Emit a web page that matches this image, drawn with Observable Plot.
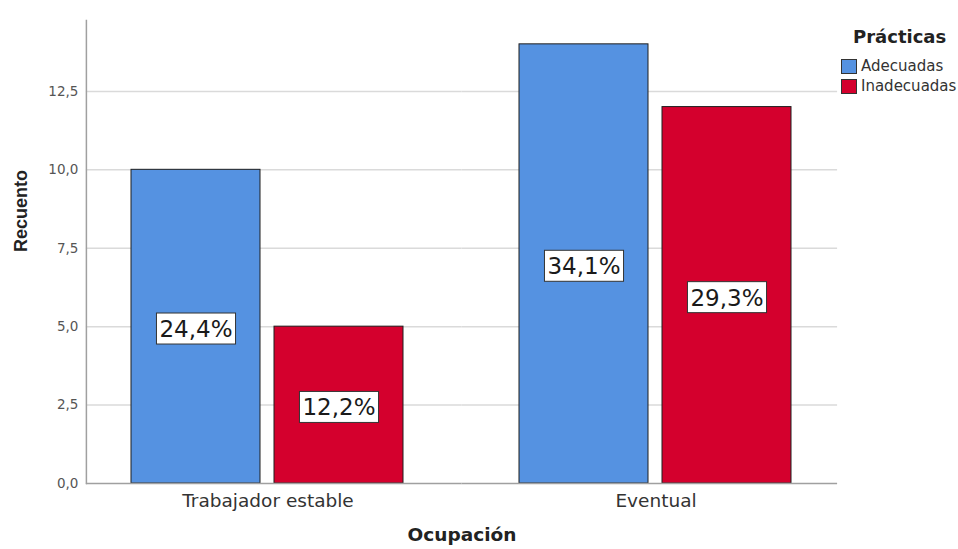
<!DOCTYPE html>
<html>
<head>
<meta charset="utf-8">
<script src="https://cdn.jsdelivr.net/npm/d3@7"></script>
<script src="https://cdn.jsdelivr.net/npm/@observablehq/plot@0.6"></script>
<style>
  body { margin: 0; background: #fff; }
  #chart { position: relative; width: 958px; height: 549px; font-family: "DejaVu Sans", sans-serif; }
  .leyenda { position: absolute; left: 841px; top: 26px; color: #333; }
  .leyenda .titulo { position: absolute; left: 12px; top: 0; font-weight: bold; font-size: 18px; color: #222; white-space: nowrap; }
  .leyenda .item { position: absolute; left: 0; white-space: nowrap; font-size: 15px; line-height: 16px; }
  .leyenda .sw { display: inline-block; width: 16px; height: 15px; border: 1px solid #333; box-sizing: border-box; vertical-align: -3px; margin-right: 4px; }
</style>
</head>
<body>
<div id="chart"></div>
<script>
// Recuento de prácticas por ocupación
const ocupaciones = ["Trabajador estable", "Eventual"];
const practicas = ["Adecuadas", "Inadecuadas"];
const recuentoAdecuadas = [10, 14];
const recuentoInadecuadas = [5, 12];
const yTicks = [0, 2.5, 5, 7.5, 10, 12.5];
const colores = ["#5592e1", "#d4002d"];

const total = d3.sum(recuentoAdecuadas) + d3.sum(recuentoInadecuadas);
const coma = (v, n) => v.toFixed(n).replace(".", ",");

const filas = [];
ocupaciones.forEach((o, i) => {
  filas.push({ocupacion: o, practica: practicas[0], recuento: recuentoAdecuadas[i]});
  filas.push({ocupacion: o, practica: practicas[1], recuento: recuentoInadecuadas[i]});
});

// outer gap between the y axis and the first facet
const margenFacet = 25.1;

// horizontal rules, one set per facet, stretched so the two halves meet in the gap
const rejilla = ocupaciones.flatMap(o => yTicks.map(v => ({ocupacion: o, valor: v})));
const reglas = (o, izq, der, filtro, estilo) =>
  Plot.ruleY(rejilla.filter(d => d.ocupacion === o && filtro(d.valor)),
    {fx: "ocupacion", y: "valor", insetLeft: izq, insetRight: der, ...estilo});
const estiloRejilla = {stroke: "#dadada", strokeWidth: 1.5};
const estiloBase = {stroke: "#a0a0a0", strokeWidth: 1.5};

const plot = Plot.plot({
  width: 958,
  height: 549,
  marginLeft: 85,
  marginRight: 120,
  marginTop: 20,
  marginBottom: 66,
  style: {fontFamily: "DejaVu Sans, sans-serif", background: "white", overflow: "visible"},
  fx: {domain: ocupaciones, paddingInner: 0.193, paddingOuter: 0.0645, label: null},
  x: {domain: practicas, paddingInner: 0.097, paddingOuter: 0.139, axis: null},
  y: {domain: [0, 14.76], label: null},
  color: {domain: practicas, range: colores},
  marks: [
    reglas(ocupaciones[0], -margenFacet, -37.5, v => v > 0, estiloRejilla),
    reglas(ocupaciones[1], -37.5, -margenFacet, v => v > 0, estiloRejilla),
    Plot.axisY({ticks: yTicks, tickSize: 0, tickPadding: 8, dx: -margenFacet, tickFormat: d => coma(d, 1), fontSize: 13.5, fill: "#555", label: null}),
    Plot.axisFx({anchor: "bottom", tickSize: 0, tickPadding: 10, fontSize: 18.5, fill: "#333", label: null}),
    Plot.barY(filas, {fx: "ocupacion", x: "practica", y: "recuento", fill: "practica", stroke: "#1f1f1f", strokeWidth: 1}),
    reglas(ocupaciones[0], -margenFacet, -37.5, v => v === 0, estiloBase),
    reglas(ocupaciones[1], -37.5, -margenFacet, v => v === 0, estiloBase),
    Plot.frame({anchor: "left", insetLeft: -margenFacet, stroke: "#a0a0a0", strokeWidth: 1.5, facet: "super"}),
    Plot.text(filas, {
      fx: "ocupacion", x: "practica", y: d => d.recuento / 2, dy: 3,
      text: d => coma(100 * d.recuento / total, 1) + "%",
      fontSize: 23, fill: "#1a1a1a", className: "etiqueta"
    }),
    Plot.text(["Recuento"], {frameAnchor: "left", dx: -margenFacet - 65, rotate: -90, fontSize: 18, fontWeight: "bold", fill: "#222", fontFamily: "Liberation Sans, Arial, sans-serif", facet: "super"}),
    Plot.text(["Ocupación"], {frameAnchor: "bottom", dy: 57, fontSize: 18.5, fontWeight: "bold", fill: "#222", facet: "super"})
  ]
});

const chart = document.getElementById("chart");
chart.append(plot);

// white boxes behind the percentage labels
plot.querySelectorAll("g.etiqueta text").forEach(t => {
  const b = t.getBBox();
  const r = document.createElementNS("http://www.w3.org/2000/svg", "rect");
  r.setAttribute("x", b.x - 3);
  r.setAttribute("y", b.y - 3);
  r.setAttribute("width", b.width + 6);
  r.setAttribute("height", b.height + 5);
  r.setAttribute("fill", "white");
  r.setAttribute("stroke", "#333");
  r.setAttribute("stroke-width", 1);
  if (t.getAttribute("transform")) r.setAttribute("transform", t.getAttribute("transform"));
  t.parentNode.insertBefore(r, t);
});

// legend
const color = plot.scale("color");
const leyenda = document.createElement("div");
leyenda.className = "leyenda";
const titulo = document.createElement("div");
titulo.className = "titulo";
titulo.textContent = "Prácticas";
leyenda.append(titulo);
practicas.forEach((p, i) => {
  const item = document.createElement("div");
  item.className = "item";
  item.style.top = (32 + i * 20) + "px";
  const sw = document.createElement("span");
  sw.className = "sw";
  sw.style.background = color.apply(p);
  item.append(sw, document.createTextNode(p));
  leyenda.append(item);
});
chart.append(leyenda);
</script>
</body>
</html>
